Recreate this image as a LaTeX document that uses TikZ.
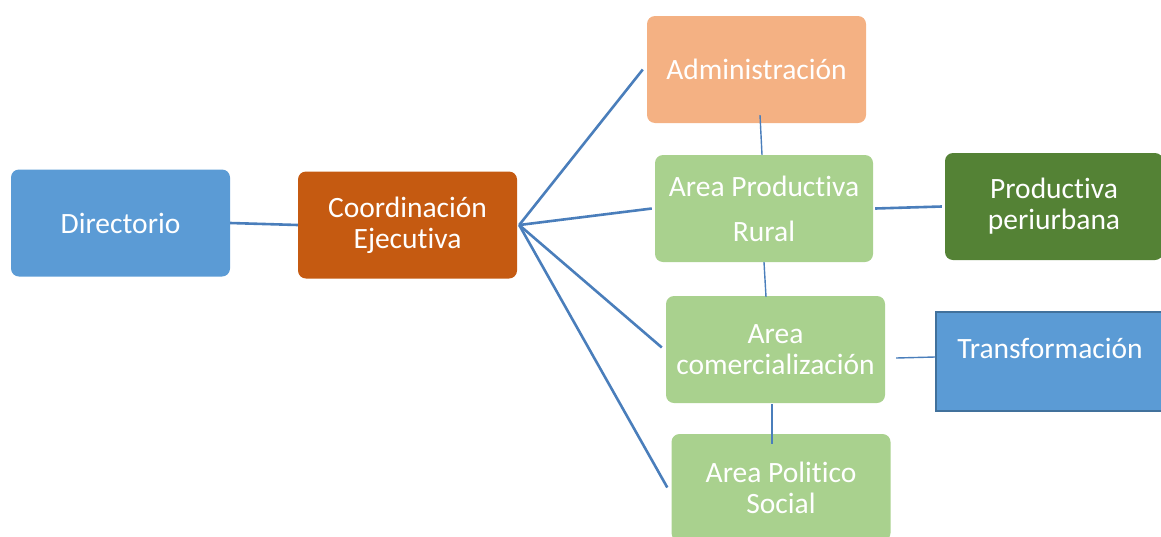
\documentclass[tikz,border=0pt]{standalone}
\usepackage{fontspec}
\setmainfont{Carlito}[Ligatures=NoCommon]
\usetikzlibrary{calc}
\definecolor{cblue}{HTML}{5B9BD5}
\definecolor{corange}{HTML}{C55A11}
\definecolor{cpeach}{HTML}{F4B183}
\definecolor{cgreen}{HTML}{A9D18E}
\definecolor{cdgreen}{HTML}{548235}
\definecolor{cborder}{HTML}{41719C}
\definecolor{cline}{RGB}{74,126,187}
\tikzset{
  box/.style={rounded corners=8pt, text=white, align=center, inner sep=0pt,
    minimum width=219pt, minimum height=107pt,
    font=\fontsize{29.5}{31}\selectfont},
  fan/.style={draw=cline, line width=2.6pt},
  thin/.style={draw=cline, line width=1.4pt},
}
\begin{document}
\begin{tikzpicture}[x=1pt,y=-1pt]
\useasboundingbox (0,0) rectangle (1161,536);
\node[box, fill=cblue] (dir) at (120.5,223) {Directorio};
\node[box, fill=corange] (ce) at (407.5,225) {Coordinación\\Ejecutiva};
\node[box, fill=cpeach] (adm) at (756.5,69.5) {Administración};
\node[box, fill=cgreen, minimum width=218pt] (apr) at (764,208.5) {Area Productiva\\[14pt]Rural};
\node[box, fill=cdgreen, minimum width=218pt] (per) at (1054,206.5) {Productiva\\periurbana};
\node[box, fill=cgreen] (com) at (775.5,349.5) {Area\\comercialización};
\node[box, fill=cgreen] (pol) at (781,487.5) {Area Politico\\Social};
\node[box, rounded corners=0pt, fill=cblue, draw=cborder, line width=2pt,
  minimum width=228pt, minimum height=99pt, text height=20pt, text depth=25pt] (tra) at (1050,361) {Transformación};
% connectors
\draw[fan] (dir.east) -- (ce.west);
\draw[fan] ($(ce.east)+(2,0)$) -- ($(adm.west)+(-4,0)$);
\draw[fan] ($(ce.east)+(2,0)$) -- ($(apr.west)+(-3,0)$);
\draw[fan] ($(ce.east)+(2,0)$) -- ($(com.west)+(-4,-2)$);
\draw[fan] ($(ce.east)+(2,0)$) -- ($(pol.west)+(-4,0)$);
\draw[thin] ($(adm.south)+(3.5,-8)$) -- ($(apr.north)+(-2,0)$);
\draw[thin] ($(apr.south)+(0,0)$) -- ($(com.north)+(-9.5,1)$);
\draw[thin] ($(com.south)+(-3.5,1)$) -- ($(pol.north)+(-9,10)$);
\draw[fan] ($(apr.east)+(2,0)$) -- ($(per.west)+(-3,0)$);
\draw[thin] ($(com.east)+(11,8.5)$) -- ($(tra.west)+(0,-4)$);
\end{tikzpicture}
\end{document}
